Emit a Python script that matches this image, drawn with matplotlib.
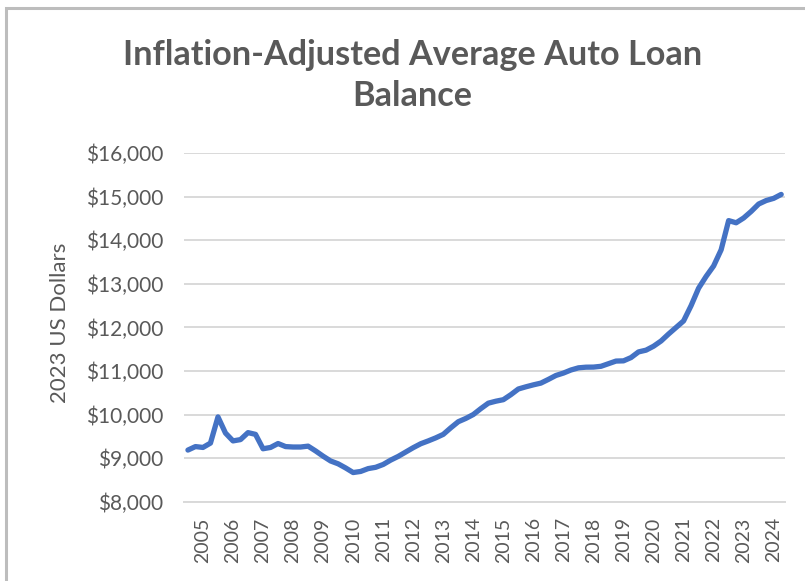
import matplotlib
matplotlib.use("Agg")
import matplotlib.pyplot as plt
from matplotlib.patches import Rectangle
import numpy as np

# quarterly values, 2005 Q1 .. 2024 Q4 (2023 US dollars)
balance = [
    9190, 9270, 9250, 9350, 9950, 9580, 9400, 9430,
    9590, 9550, 9220, 9250, 9340, 9270, 9260, 9260,
    9280, 9170, 9050, 8940, 8875, 8780, 8675, 8700,
    8765, 8795, 8860, 8960, 9045, 9145, 9245, 9335,
    9400, 9470, 9550, 9700, 9840, 9915, 10005, 10140,
    10265, 10310, 10345, 10460, 10590, 10640, 10685, 10725,
    10810, 10900, 10955, 11025, 11075, 11090, 11092, 11110,
    11170, 11230, 11235, 11310, 11440, 11480, 11570, 11690,
    11850, 12000, 12150, 12500, 12900, 13170, 13410, 13780,
    14450, 14400, 14510, 14660, 14830, 14910, 14960, 15050,
]
years = [str(y) for y in range(2005, 2025)]
yticks = [8000, 9000, 10000, 11000, 12000, 13000, 14000, 15000, 16000]

gray = "#595959"
fig = plt.figure(figsize=(8.05, 5.81), dpi=100)
fig.patches.append(Rectangle((0.007, -0.01), 1.0, 0.996, transform=fig.transFigure,
                             fill=False, edgecolor="#bdbdbd", linewidth=2.2))

ax = fig.add_axes([0.2288, 0.136, 0.7463, 0.6007])
x = np.arange(len(balance))
ax.plot(x, balance, color="#4472C4", linewidth=3.8, solid_capstyle="round")

ax.set_xlim(-0.5, len(balance) - 0.5)
ax.set_ylim(8000, 16000)
ax.set_yticks(yticks)
ax.set_yticklabels(["${:,}".format(v) for v in yticks], fontsize=15, color=gray, family="Lato")
ax.set_xticks(np.arange(len(years)) * 4 + 2)
ax.set_xticklabels(years, rotation=90, fontsize=14, color=gray, family="Lato")
ax.tick_params(axis="y", length=0, pad=15)
ax.tick_params(axis="x", length=0, pad=11)
ax.grid(axis="y", color="#d9d9d9", linewidth=1.4)
ax.set_axisbelow(True)
for s in ["left", "right", "top"]:
    ax.spines[s].set_visible(False)
ax.spines["bottom"].set_color("#d9d9d9")
ax.spines["bottom"].set_linewidth(1.4)

fig.text(0.0745, 0.444, "2023 US Dollars", rotation=90, ha="center", va="center",
         fontsize=16, color=gray, family="Lato")
fig.text(0.512, 0.906, "Inflation-Adjusted Average Auto Loan", ha="center", va="center",
         fontsize=24.7, fontweight="bold", color=gray, family="Lato")
fig.text(0.512, 0.834, "Balance", ha="center", va="center",
         fontsize=24.7, fontweight="bold", color=gray, family="Lato")

fig.savefig("out.png", dpi=100)
